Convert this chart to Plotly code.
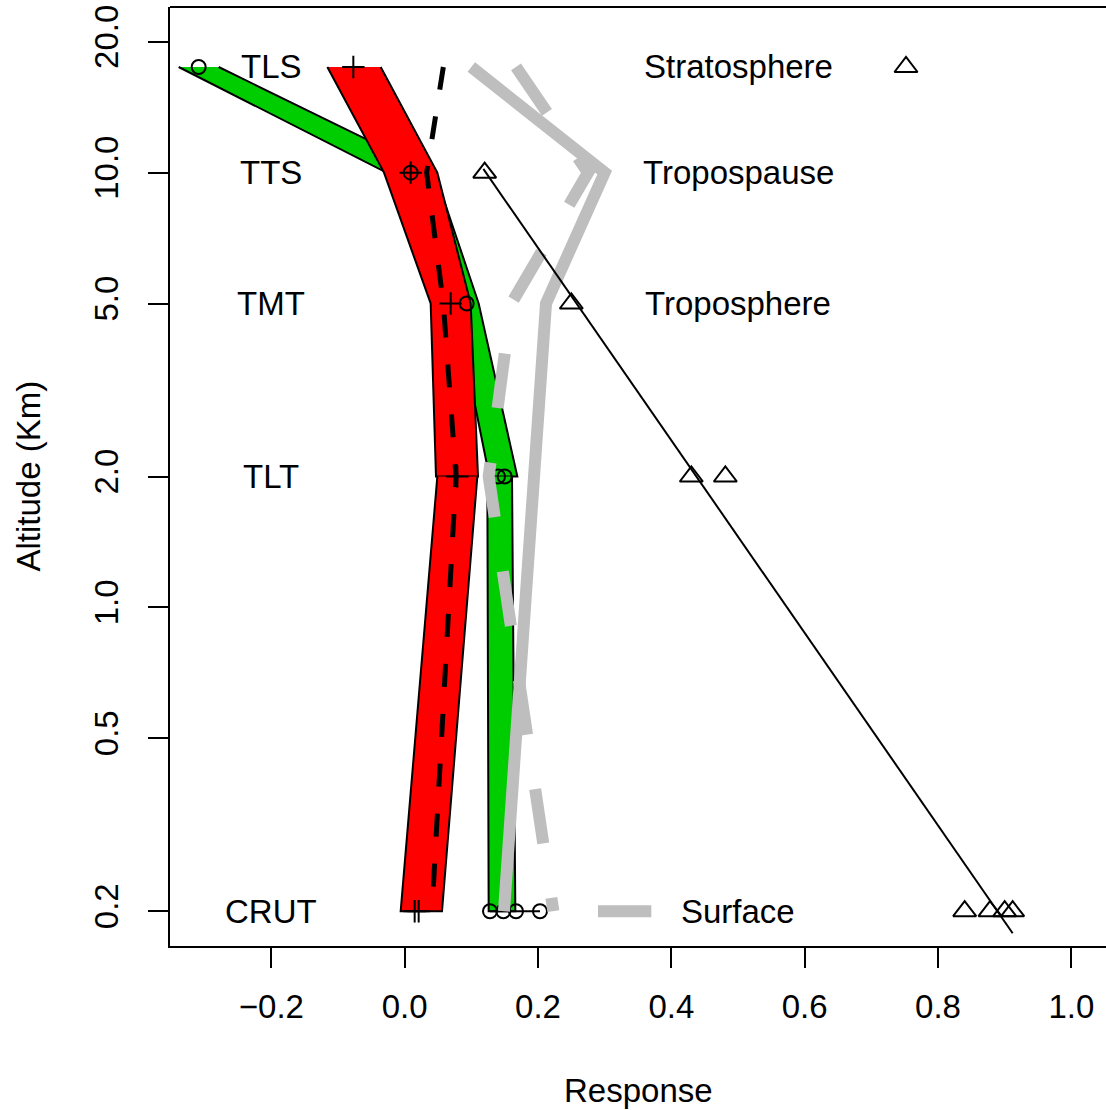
import numpy as np
import plotly.graph_objects as go

# ---------------- data ----------------
levels = [17.5, 10.0, 5.0, 2.0]          # TLS, TTS, TMT, TLT altitudes (km)
level_names = ["TLS", "TTS", "TMT", "TLT", "CRUT"]
level_alts = [17.5, 10.0, 5.0, 2.0, 0.2]
lower_levels = [2.0, 0.2]                # TLT, CRUT

green_up_left = [-0.339, -0.027, 0.075, 0.127]
green_up_right = [-0.279, 0.045, 0.111, 0.169]
green_lo_left = [0.124, 0.126]
green_lo_right = [0.161, 0.166]

red_up_left = [-0.116, -0.031, 0.039, 0.047]
red_up_right = [-0.036, 0.049, 0.099, 0.110]
red_lo_left = [0.049, -0.006]
red_lo_right = [0.109, 0.056]

circle_x = [-0.309, 0.009, 0.093, 0.140, 0.150, 0.128, 0.148, 0.167, 0.203]
circle_y = [17.5, 10.0, 5.0, 2.0, 2.0, 0.2, 0.2, 0.2, 0.2]

plus_x = [-0.077, 0.009, 0.069, 0.079, 0.015, 0.021]
plus_y = [17.5, 10.0, 5.0, 2.0, 0.2, 0.2]

crut_link_x = [0.128, 0.203]
crut_link_y = [0.2, 0.2]

black_dash_x = [0.058, 0.033, 0.058, 0.077, 0.041]
black_dash_y = [17.5, 10.0, 5.0, 2.0, 0.2]

gray_solid_x = [0.100, 0.300, 0.212, 0.149]
gray_solid_y = [17.5, 10.0, 5.0, 0.2]

gray_dash_x = [0.167, 0.275, 0.160, 0.126, 0.223]
gray_dash_y = [17.5, 10.0, 5.0, 2.0, 0.2]

surface_key_x = [0.29, 0.37]
surface_key_y = [0.2, 0.2]

fit_x = [0.118, 0.912]
fit_y = [10.2, 0.178]

tri_x = [0.120, 0.250, 0.430, 0.481, 0.840, 0.878, 0.900, 0.912, 0.752]
tri_y = [10.0, 5.0, 2.0, 2.0, 0.2, 0.2, 0.2, 0.2, 17.5]

region_names = ["Stratosphere", "Tropospause", "Troposphere", "Surface"]
region_alts = [17.5, 10.0, 5.0, 0.2]

x_ticks = [-0.2, 0.0, 0.2, 0.4, 0.6, 0.8, 1.0]
y_ticks = [0.2, 0.5, 1.0, 2.0, 5.0, 10.0, 20.0]
y_ticktext = ["0.2", "0.5", "1.0", "2.0", "5.0", "10.0", "20.0"]

GREEN = "#00CD00"
RED = "#FF0000"
GRAY = "#BEBEBE"
FONT = "Liberation Sans, Arial, sans-serif"
FS = 33

fig = go.Figure()


def band(left, right, alts, color):
    fig.add_trace(go.Scatter(
        x=list(left) + list(right)[::-1],
        y=list(alts) + list(alts)[::-1],
        mode="lines", fill="toself", fillcolor=color,
        line=dict(color="black", width=2), hoverinfo="skip", showlegend=False))


band(green_up_left, green_up_right, levels, GREEN)
band(green_lo_left, green_lo_right, lower_levels, GREEN)
band(red_up_left, red_up_right, levels, RED)
band(red_lo_left, red_lo_right, lower_levels, RED)

fig.add_trace(go.Scatter(x=crut_link_x, y=crut_link_y, mode="lines",
                         line=dict(color="black", width=2), showlegend=False))

fig.add_trace(go.Scatter(x=circle_x, y=circle_y, mode="markers",
                         marker=dict(symbol="circle-open", size=14, color="black",
                                     line=dict(color="black", width=2)),
                         showlegend=False))
fig.add_trace(go.Scatter(x=plus_x, y=plus_y, mode="markers",
                         marker=dict(symbol="cross-thin-open", size=16, color="black",
                                     line=dict(color="black", width=2)),
                         showlegend=False))

fig.add_trace(go.Scatter(x=black_dash_x, y=black_dash_y, mode="lines",
                         line=dict(color="black", width=5, dash="23px,27px"),
                         showlegend=False))

fig.add_trace(go.Scatter(x=gray_solid_x, y=gray_solid_y, mode="lines",
                         line=dict(color=GRAY, width=12), showlegend=False))
fig.add_trace(go.Scatter(x=gray_dash_x, y=gray_dash_y, mode="lines",
                         line=dict(color=GRAY, width=12, dash="55px,55px"),
                         showlegend=False))
fig.add_trace(go.Scatter(x=surface_key_x, y=surface_key_y, mode="lines",
                         line=dict(color=GRAY, width=12), showlegend=False))

fig.add_trace(go.Scatter(x=fit_x, y=fit_y, mode="lines",
                         line=dict(color="black", width=2), showlegend=False))
fig.add_trace(go.Scatter(x=tri_x, y=tri_y, mode="markers",
                         marker=dict(symbol="triangle-up-open", size=20, color="black",
                                     line=dict(color="black", width=2)),
                         showlegend=False))

annotations = []
for name, alt in zip(level_names, level_alts):
    annotations.append(dict(x=-0.2, y=np.log10(alt), xref="x", yref="y", text=name,
                            showarrow=False, xanchor="center", yanchor="middle",
                            font=dict(family=FONT, size=FS, color="black")))
for name, alt in zip(region_names, region_alts):
    annotations.append(dict(x=0.5, y=np.log10(alt), xref="x", yref="y", text=name,
                            showarrow=False, xanchor="center", yanchor="middle",
                            font=dict(family=FONT, size=FS, color="black")))
annotations.append(dict(x=0.5, y=0, xref="paper", yref="paper", text="Response",
                        showarrow=False, xanchor="center", yanchor="middle", yshift=-144,
                        font=dict(family=FONT, size=FS, color="black")))
annotations.append(dict(x=0, y=0.5, xref="paper", yref="paper", text="Altitude (Km)",
                        showarrow=False, xanchor="center", yanchor="middle", xshift=-142,
                        textangle=-90, font=dict(family=FONT, size=FS, color="black")))

fig.update_layout(
    width=1106, height=1110,
    margin=dict(l=170, r=0, t=7, b=164, pad=0),
    paper_bgcolor="white", plot_bgcolor="white",
    font=dict(family=FONT, size=FS, color="black"),
    annotations=annotations,
    showlegend=False,
    shapes=[dict(type="line", xref="paper", yref="paper", x0=0, x1=1, y0=1, y1=1,
                 line=dict(color="black", width=2))],
)
fig.update_xaxes(range=[-0.352, 1.052], tickvals=x_ticks, tickformat=".1f",
                 ticks="outside", ticklen=20, tickwidth=2, tickcolor="black",
                 showline=True, linewidth=2, linecolor="black", mirror=False,
                 showgrid=False, zeroline=False, ticklabelstandoff=10,
                 tickfont=dict(family=FONT, size=FS, color="black"))
fig.update_yaxes(type="log", range=[np.log10(0.2) - 0.08, np.log10(20) + 0.08],
                 tickvals=y_ticks, ticktext=y_ticktext, tickangle=-90,
                 ticks="outside", ticklen=20, tickwidth=2, tickcolor="black",
                 showline=True, linewidth=2, linecolor="black", mirror=False,
                 showgrid=False, zeroline=False, ticklabelstandoff=17,
                 tickfont=dict(family=FONT, size=FS, color="black"))

fig.write_html("out.html")
